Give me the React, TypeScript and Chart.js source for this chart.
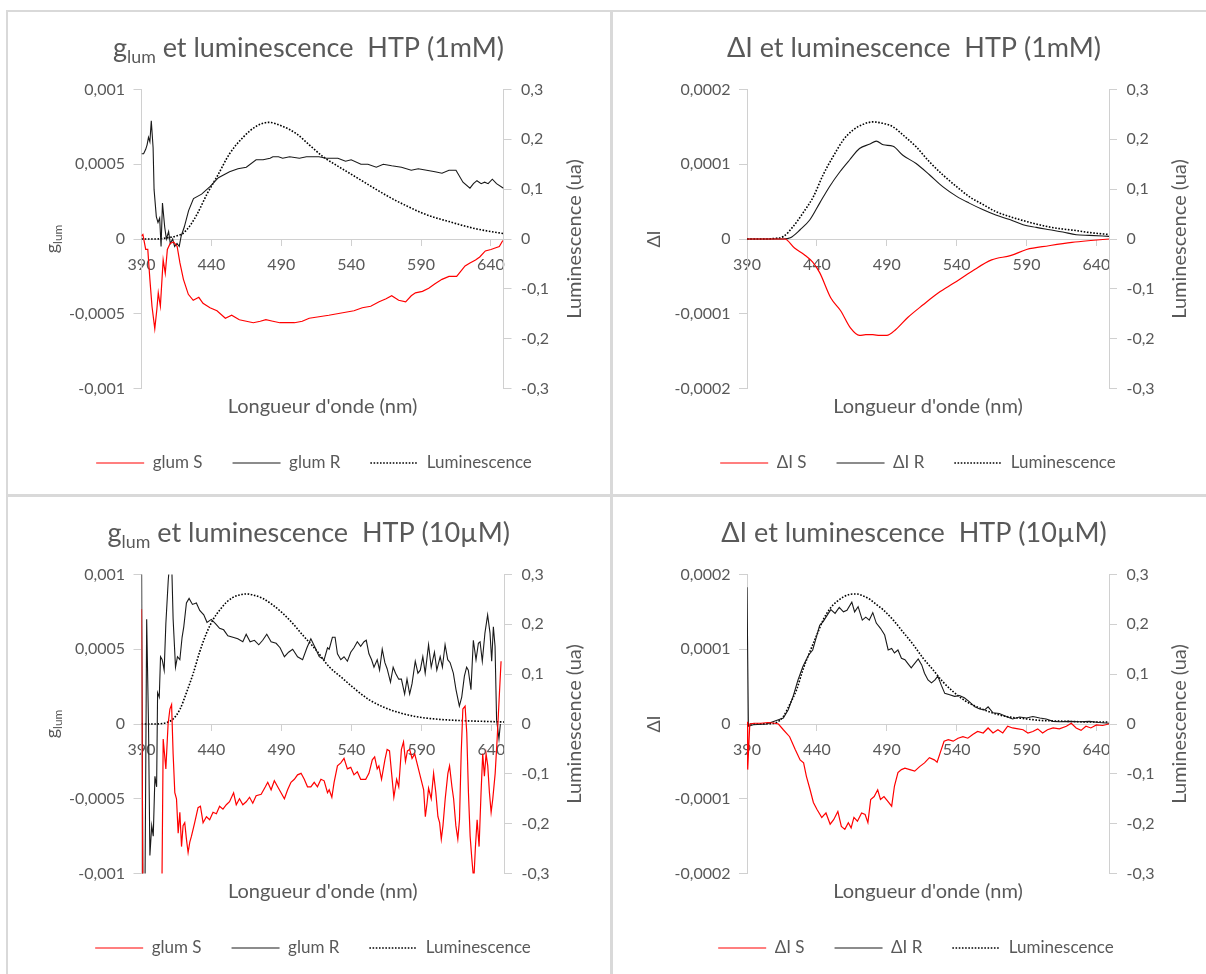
import React, { useEffect, useRef } from 'react';
import { Chart, registerables } from 'chart.js';

Chart.register(...registerables);

// ---------------- data ----------------
const nmTickVals = [390, 440, 490, 540, 590, 640];
const nmTickLabels = ['390', '440', '490', '540', '590', '640'];
const glumTickVals = [-0.001, -0.0005, 0, 0.0005, 0.001];
const glumTickLabels = ['-0,001', '-0,0005', '0', '0,0005', '0,001'];
const dITickVals = [-0.0002, -0.0001, 0, 0.0001, 0.0002];
const dITickLabels = ['-0,0002', '-0,0001', '0', '0,0001', '0,0002'];
const lumTickVals = [-0.3, -0.2, -0.1, 0, 0.1, 0.2, 0.3];
const lumTickLabels = ['-0,3', '-0,2', '-0,1', '0', '0,1', '0,2', '0,3'];

const xAxisTitle = "Longueur d'onde (nm)";
const y2AxisTitle = 'Luminescence (ua)';
const lumLabel = 'Luminescence';

type P = [number, number][];

// g_lum, 1 mM
const glumS_1mM: P = [[390, 0.00002], [391, 0.00003], [393, -0.00007], [394.5, -0.00007], [396, -0.00027], [397.5, -0.00045], [399.5, -0.0006], [401, -0.00047], [402, -0.00036], [403.5, -0.00045], [405.5, -0.00014], [407, -0.00023], [408.5, -0.00007], [410.5, -0.00003], [413, -0.00002], [415.5, -0.00005], [417.5, -0.00016], [420, -0.00027], [423.5, -0.00037], [427, -0.00041], [431, -0.00039], [434, -0.00043], [439, -0.00046], [444, -0.00048], [450, -0.00053], [454.5, -0.00051], [460, -0.00054], [465, -0.00055], [470, -0.00056], [475, -0.00055], [479, -0.00054], [484, -0.00055], [489, -0.00056], [494, -0.00056], [499.5, -0.00056], [505, -0.00055], [510, -0.00053], [517, -0.00052], [524, -0.00051], [530, -0.0005], [536, -0.00049], [542, -0.00048], [548, -0.00046], [554, -0.00045], [560, -0.00042], [565, -0.0004], [569, -0.00038], [574, -0.00041], [579, -0.00042], [583, -0.00038], [586, -0.00036], [591, -0.00035], [595.5, -0.00033], [600, -0.0003], [605, -0.00027], [610, -0.00025], [615.5, -0.00025], [621.5, -0.00018], [625, -0.00016], [629, -0.00014], [632, -0.00012], [636, -0.00008], [640, -0.00007], [643, -0.00006], [646, -0.00005], [648.5, -0.00001]];
const glumR_1mM: P = [[390, 0.00057], [391.5, 0.00057], [393, 0.0006], [394, 0.00063], [395, 0.00068], [396, 0.00065], [397, 0.00079], [398.3, 0.00061], [399, 0.00033], [400.6, 0.00015], [401.8, 0.00011], [403, 0.00014], [404, -0.00005], [405, 0.00024], [406.6, 0.00008], [407.8, 0], [409.4, 0.00005], [410.6, -0.00003], [412.3, 0], [413.7, -0.00005], [415.4, -0.00003], [417, -0.00005], [418.4, 0.00002], [420.6, 0.00008], [423.7, 0.00019], [427.2, 0.00027], [433, 0.0003], [439, 0.00035], [445, 0.00041], [453, 0.00045], [459, 0.00047], [465, 0.00048], [472, 0.00053], [477, 0.00053], [482, 0.00054], [484, 0.00055], [488, 0.00055], [491, 0.00054], [496, 0.00055], [503, 0.00054], [508, 0.00055], [512.5, 0.00055], [517, 0.00055], [522, 0.00054], [530.5, 0.00054], [536, 0.00052], [540, 0.00053], [547, 0.0005], [552, 0.0005], [558, 0.00048], [563, 0.0005], [569, 0.00049], [576, 0.00048], [583, 0.00046], [588, 0.00047], [594, 0.00046], [600, 0.00045], [605, 0.00044], [610, 0.00046], [615, 0.00046], [620, 0.00038], [625, 0.00034], [627.5, 0.00037], [630, 0.00039], [633, 0.00037], [635.5, 0.00038], [638, 0.00037], [641, 0.0004], [644, 0.00037], [649, 0.00034]];
const lumA_1mM: P = [[390, 0], [400, 0], [405, 0.001], [410, 0.003], [415, 0.006], [420, 0.012], [425, 0.028], [430, 0.051], [437, 0.091], [444, 0.125], [453, 0.171], [463, 0.205], [472, 0.226], [481, 0.234], [491, 0.226], [501, 0.211], [510, 0.189], [520, 0.165], [530, 0.147], [540, 0.13], [550, 0.113], [560, 0.096], [570, 0.08], [580, 0.066], [590, 0.053], [600, 0.043], [610, 0.035], [620, 0.027], [630, 0.02], [640, 0.015], [649, 0.011]];

// Delta I, 1 mM
const dIS_1mM: P = [[390, 0], [410, 0], [417, 0], [424, -0.000012], [431, -0.000021], [437, -0.000031], [442, -0.000045], [450, -0.000079], [457, -0.000096], [464, -0.000119], [470.5, -0.000129], [475, -0.000128], [480, -0.000128], [485, -0.000129], [490, -0.000129], [496.5, -0.000121], [505, -0.000105], [516, -0.000088], [527, -0.000072], [538, -0.000059], [551, -0.000043], [565, -0.000028], [579, -0.000022], [590, -0.000014], [606, -0.000009], [622.5, -0.0000045], [636, -0.000002], [649, 0]];
const dIR_1mM: P = [[390, 0], [400, 0], [410, 0], [416, 0], [421, 0.0000016], [428, 0.0000124], [435, 0.0000257], [442, 0.000048], [449, 0.00007], [456.5, 0.00009], [463.5, 0.000106], [470.5, 0.000121], [478, 0.000127], [482.5, 0.000131], [487.5, 0.000126], [494.5, 0.000124], [501.5, 0.000112], [511, 0.000101], [520.5, 0.000086], [530, 0.00007], [540, 0.000057], [549, 0.000048], [559, 0.000039], [568, 0.000032], [578, 0.000026], [587.5, 0.000019], [597, 0.0000155], [606.5, 0.0000124], [616, 0.0000093], [625.5, 0.0000057], [635, 0.0000048], [649, 0.0000035]];
const lumB_1mM: P = [[390, 0], [405, 0], [409, 0.001], [416, 0.005], [423, 0.025], [430, 0.052], [437.5, 0.085], [444.5, 0.129], [451.5, 0.165], [459, 0.199], [466, 0.219], [473, 0.23], [480, 0.235], [487.5, 0.232], [494.5, 0.225], [501.5, 0.209], [511, 0.185], [520.5, 0.155], [530, 0.129], [540, 0.105], [549, 0.085], [559, 0.069], [568, 0.055], [578, 0.045], [587.5, 0.037], [597, 0.03], [606.5, 0.024], [616, 0.02], [625.5, 0.017], [635, 0.013], [649, 0.009]];

// g_lum, 10 uM
const glumS_10uM: P = [[390, 0.00077], [391, -0.0012], [398, -0.0013], [404.5, -0.0012], [405.5, -0.0001], [407.4, -0.0003], [409, 0], [410.3, 0.0001], [411.5, 0.00013], [412.6, -0.0002], [413.8, -0.00046], [415, -0.0005], [416.2, -0.00073], [417.4, -0.00059], [418.6, -0.00082], [419.7, -0.00068], [420.9, -0.00066], [422.1, -0.00077], [423.3, -0.00086], [424.5, -0.00079], [425.7, -0.00075], [428, -0.00066], [430.4, -0.00056], [432.1, -0.00055], [434, -0.00066], [436.4, -0.00062], [438.7, -0.00064], [441.1, -0.00059], [443.5, -0.0006], [445.8, -0.00055], [448.2, -0.00057], [450.6, -0.00054], [452.9, -0.00052], [455.8, -0.00046], [457.7, -0.00054], [460, -0.0005], [462.4, -0.00054], [464.8, -0.00052], [467.2, -0.00049], [469.5, -0.00053], [471.9, -0.00048], [475.5, -0.00047], [478.5, -0.00042], [480.2, -0.00039], [482.6, -0.00044], [484.9, -0.00038], [487.3, -0.00042], [489.7, -0.00046], [492.1, -0.0005], [494.4, -0.00044], [496.8, -0.00039], [499.2, -0.00037], [501.5, -0.00034], [504, -0.00033], [506.3, -0.00037], [508.6, -0.00042], [511, -0.00042], [513.4, -0.00039], [515.7, -0.00042], [518.2, -0.00037], [520.5, -0.00038], [522.9, -0.00046], [524.1, -0.00044], [526, -0.00049], [527.6, -0.00039], [530, -0.00028], [532.4, -0.00026], [534.7, -0.00023], [537.1, -0.0003], [539.5, -0.00029], [541.8, -0.00034], [544.2, -0.00032], [546.6, -0.00037], [550.2, -0.00037], [552.5, -0.00033], [554.9, -0.00024], [556.6, -0.00022], [558.4, -0.0003], [559.6, -0.00028], [561.5, -0.00037], [563.9, -0.00024], [565.5, -0.00017], [567.2, -0.00018], [568.7, -0.00033], [570.3, -0.00049], [572.3, -0.00037], [573.8, -0.00042], [575.7, -0.00017], [577.2, -0.00012], [578.6, -0.00025], [580, -0.00018], [581.6, -0.00017], [583.3, -0.00023], [585.2, -0.0002], [586.8, -0.00026], [589.2, -0.00035], [591.6, -0.00044], [592.8, -0.00062], [594, -0.00053], [595.1, -0.00043], [597, -0.0005], [598.7, -0.00033], [600.3, -0.00046], [601.8, -0.00062], [603, -0.00066], [604.2, -0.00077], [605.4, -0.00068], [607, -0.0005], [608.9, -0.00033], [610.1, -0.00028], [611.8, -0.00042], [613, -0.0005], [614.6, -0.00068], [616, -0.00077], [617.2, -0.00064], [618.4, -0.0002], [619.6, 0.0001], [621.2, 0.00012], [622.4, -0.00006], [623.6, -0.00046], [624.8, -0.00075], [626, -0.0009], [627.4, -0.00105], [628.6, -0.00082], [629.8, -0.00064], [631.2, -0.00082], [632.6, -0.00046], [633.8, -0.0002], [635, -0.00035], [636.2, -0.0002], [637.4, -0.00028], [638.6, -0.00046], [639.8, -0.00059], [641, -0.0005], [642.7, -0.00033], [644.1, -0.0001], [645.5, 0.00016], [646.9, 0.00042]];
const glumR_10uM: P = [[390, 0.0012], [391, -0.0012], [392.5, -0.0011], [393.7, 0.0007], [395, 0], [396, -0.00088], [397.3, -0.00068], [398.4, -0.00075], [399.6, -0.00035], [400.8, -0.00042], [401.5, 0.00021], [402.7, 0.00018], [403.6, 0.00045], [404.8, 0.00043], [406.2, 0.00036], [407.4, 0.00067], [409.1, 0.00096], [410.3, 0.0011], [411.5, 0.0011], [412.6, 0.0007], [414.3, 0.00038], [415.7, 0.00045], [417.4, 0.00043], [419, 0.00058], [420.2, 0.00065], [422.1, 0.00081], [424, 0.00084], [426.4, 0.0008], [429.2, 0.00081], [431.6, 0.00076], [434.5, 0.00073], [436.8, 0.00068], [439.9, 0.0007], [443, 0.00067], [445.8, 0.00064], [448.7, 0.00063], [451.7, 0.00059], [455.3, 0.00058], [458.8, 0.00057], [462.4, 0.00055], [464.8, 0.0006], [467.6, 0.00055], [470.7, 0.00056], [473.8, 0.00053], [476.6, 0.00056], [479.5, 0.0006], [482.6, 0.00055], [486.2, 0.00054], [489, 0.00051], [492.1, 0.00045], [495.1, 0.00048], [498, 0.0005], [501.5, 0.00045], [505.1, 0.00043], [508.2, 0.00051], [511, 0.00057], [514.1, 0.00051], [517, 0.00045], [520.5, 0.00043], [522.9, 0.00051], [524.1, 0.0005], [526.4, 0.00058], [528.3, 0.00058], [530, 0.00047], [532.4, 0.00043], [534.7, 0.00045], [537.1, 0.00042], [539.5, 0.00048], [541.8, 0.00051], [544.2, 0.00055], [546.6, 0.00052], [549, 0.00055], [550.6, 0.00056], [552.5, 0.00047], [554.4, 0.00043], [556.1, 0.00038], [558.4, 0.00043], [560.1, 0.00036], [562, 0.0005], [563.9, 0.00041], [565.5, 0.00037], [567.9, 0.00028], [569.8, 0.00038], [571.5, 0.00034], [573.8, 0.0003], [575.7, 0.0003], [578, 0.0002], [579.7, 0.0003], [581.6, 0.0002], [583.3, 0.00027], [585.6, 0.00042], [587.5, 0.00034], [589.2, 0.00036], [591, 0.00045], [592.7, 0.00034], [595.1, 0.00053], [597, 0.00038], [599.3, 0.00048], [601, 0.00036], [603.4, 0.00045], [605, 0.00038], [606.9, 0.00053], [608.8, 0.00043], [610.5, 0.00041], [612.8, 0.00034], [614.7, 0.00023], [617.1, 0.00012], [618.8, 0.00018], [620.7, 0.00032], [622.3, 0.00038], [623.5, 0.00036], [625.4, 0.00023], [627.1, 0.00056], [629, 0.00043], [630.7, 0.00054], [631.9, 0.00055], [633.5, 0.00042], [635.4, 0.00061], [637.3, 0.00073], [639, 0.00061], [640.2, 0.00042], [641.4, 0.00065], [642.6, 0.00052], [643.7, 0.00003], [645.4, -0.0001], [646.4, 0]];
const lumA_10uM: P = [[390, 0], [400, 0], [405, 0.001], [409, 0.004], [412.6, 0.01], [417.4, 0.029], [422, 0.062], [427, 0.102], [431.6, 0.145], [436.4, 0.182], [441, 0.209], [446, 0.229], [450.6, 0.244], [455.3, 0.254], [460, 0.259], [465, 0.261], [469.5, 0.259], [476.6, 0.252], [483.7, 0.239], [491, 0.222], [498, 0.202], [505, 0.179], [514.6, 0.149], [524, 0.115], [533.5, 0.092], [543, 0.069], [552.5, 0.049], [562, 0.035], [571.5, 0.025], [585.7, 0.015], [600, 0.01], [619, 0.0067], [638, 0.005], [649, 0.004]];

// Delta I, 10 uM
const dIS_10uM: P = [[390, 0.000003], [390.5, -0.000061], [392, 0], [395, 0.000001], [400, 0.000001], [405, 0.000002], [410, 0.000001], [412.5, 0], [416, -0.0000077], [420.5, -0.000017], [424.5, -0.000034], [428, -0.000048], [430.5, -0.000052], [432.5, -0.00007], [435, -0.000087], [437.5, -0.000105], [440, -0.000114], [443.5, -0.000125], [446.5, -0.000119], [449.5, -0.000134], [452, -0.000128], [455, -0.000117], [457.5, -0.000137], [460, -0.000141], [462.5, -0.000132], [464.5, -0.000139], [466.5, -0.000125], [469, -0.00013], [472, -0.000119], [474.5, -0.000121], [476.5, -0.000132], [478.5, -0.000101], [481, -0.000097], [483.5, -0.000088], [485.5, -0.000101], [488, -0.000097], [490.5, -0.000103], [493.5, -0.00011], [495.5, -0.000083], [498, -0.000065], [500.5, -0.000061], [503, -0.000059], [506.5, -0.000061], [510, -0.000063], [513.5, -0.000057], [517, -0.000052], [520.5, -0.000045], [524, -0.000048], [526, -0.000051], [528.5, -0.000037], [531, -0.000023], [534, -0.000021], [537.5, -0.000023], [541, -0.000019], [544.5, -0.000017], [548, -0.000019], [551.5, -0.000014], [555, -0.00001], [559, -0.000012], [562.5, -0.0000053], [566, -0.000012], [569.5, -0.0000077], [573, -0.000012], [576.5, -0.000003], [580, -0.0000053], [584, -0.0000065], [587.5, -0.0000077], [591, -0.000012], [594.5, -0.00001], [598, -0.0000065], [601.5, -0.000012], [605, -0.0000077], [609, -0.0000053], [613.5, -0.0000065], [618.5, -0.000003], [622, 0.000001], [625.5, -0.0000053], [629, -0.0000085], [632.5, -0.000003], [636, -0.0000053], [640, -0.0000013], [644.5, -0.000002], [649, 0]];
const dIR_10uM: P = [[390, 0.000183], [391, -0.000003], [394.5, -0.000001], [404, 0], [411, 0.0000048], [416, 0.000008], [419.5, 0.000019], [423, 0.000037], [426.5, 0.000059], [430, 0.000077], [434, 0.000092], [437, 0.000099], [440, 0.000119], [442, 0.000132], [444.5, 0.000137], [447.5, 0.000146], [450, 0.000153], [453, 0.000148], [456, 0.000156], [459, 0.00015], [461.5, 0.000152], [465, 0.000163], [467, 0.00015], [469.5, 0.000157], [472.5, 0.000139], [475, 0.000143], [477.5, 0.000139], [480, 0.000149], [482.5, 0.000135], [485.5, 0.000128], [488.5, 0.000119], [491, 0.000099], [493.5, 0.000101], [495.5, 0.000095], [498, 0.000099], [500.5, 0.000088], [503, 0.000086], [505, 0.000081], [507.5, 0.000075], [510, 0.000081], [512.5, 0.000087], [515, 0.000079], [517, 0.000068], [519.5, 0.000059], [522, 0.000055], [524.5, 0.000059], [526.5, 0.000064], [529, 0.000052], [531.5, 0.000041], [535, 0.000039], [538.5, 0.000037], [542, 0.000038], [545.5, 0.000035], [549, 0.00003], [553, 0.000023], [556.5, 0.00002], [560, 0.000019], [562.5, 0.000023], [566, 0.000015], [570.5, 0.000014], [575.5, 0.00001], [580, 0.0000067], [585, 0.0000093], [590, 0.000008], [594.5, 0.00001], [599.5, 0.000008], [604, 0.0000067], [609, 0.0000035], [613.5, 0.000003], [620.5, 0.0000035], [628, 0.000003], [635, 0.0000035], [642, 0.000002], [649, 0.000001]];
const lumB_10uM: P = [[390, 0], [405, 0.0005], [411, 0.003], [416, 0.015], [420.5, 0.039], [425.5, 0.069], [430, 0.109], [435, 0.145], [440, 0.179], [444.5, 0.209], [449.5, 0.232], [454, 0.245], [459, 0.255], [463.5, 0.26], [468.5, 0.261], [473, 0.257], [478, 0.25], [482.5, 0.24], [487.5, 0.229], [494.5, 0.209], [501.5, 0.185], [509, 0.159], [516, 0.132], [523, 0.109], [530, 0.085], [537.5, 0.065], [547, 0.045], [556.5, 0.032], [566, 0.022], [575.5, 0.015], [587.5, 0.011], [599.5, 0.0073], [611, 0.006], [623, 0.005], [635, 0.004], [649, 0.004]];

// ---------------- styling ----------------
const FONT = 'Lato, "Noto Sans", "DejaVu Sans", sans-serif';
const TEXT = '#595959';
const AXIS = '#d0d0d0';
const RED = '#ff0000';
const BLACK = '#1a1a1a';
const GRID_LINE = '#d9d9d9';

type Seg = { t: string; sub?: boolean };

interface PanelSpec {
  left: number; top: number; width: number; height: number;
  padL: number; padB: number; wl: number; wr: number;
  title: Seg[]; yTitle: Seg[]; yTitleDx: number;
  yMin: number; yMax: number; yTickVals: number[]; yTickLabels: string[];
  labels: [string, string];
  s: P; r: P; l: P;
  smooth: boolean;
}

function drawSegs(ctx: CanvasRenderingContext2D, segs: Seg[], cx: number, cy: number, size: number, rot: number) {
  ctx.save();
  ctx.translate(cx, cy);
  if (rot) ctx.rotate(rot);
  const subSize = size * 0.66;
  const fontOf = (sz: number) => `${sz}px ${FONT}`;
  let total = 0;
  const widths = segs.map((sg) => {
    ctx.font = fontOf(sg.sub ? subSize : size);
    const w = ctx.measureText(sg.t).width;
    total += w;
    return w;
  });
  let x = -total / 2;
  ctx.textAlign = 'left';
  ctx.textBaseline = 'alphabetic';
  ctx.fillStyle = TEXT;
  const base = size * 0.36;
  segs.forEach((sg, i) => {
    ctx.font = fontOf(sg.sub ? subSize : size);
    ctx.fillText(sg.t, x, base + (sg.sub ? size * 0.22 : 0));
    x += widths[i];
  });
  ctx.restore();
}

function makeDecor(s: PanelSpec) {
  return {
    id: 'decor',
    afterDraw(chart: any) {
      const { ctx, chartArea: ca } = chart;
      const cy = (ca.top + ca.bottom) / 2;
      drawSegs(ctx, s.title, (ca.left + ca.right) / 2 - 14, ca.top - 42.5, 27, 0);
      drawSegs(ctx, s.yTitle, ca.left + s.yTitleDx, cy, 18, -Math.PI / 2);
      drawSegs(ctx, [{ t: y2AxisTitle }], ca.right + 70, cy, 20, -Math.PI / 2);
    },
  };
}

const pts = (p: P) => p.map(([x, y]) => ({ x, y }));
const fixTicks = (vals: number[]) => (scale: any) => {
  scale.ticks = vals.map((v) => ({ value: v }));
};

const legendItems = (chart: any) =>
  chart.data.datasets.map((ds: any, i: number) => ({
    text: ds.label,
    datasetIndex: i,
    hidden: false,
    fillStyle: 'rgba(0,0,0,0)',
    strokeStyle: ds.borderColor,
    lineWidth: ds.borderWidth,
    lineDash: ds.borderDash || [],
    lineCap: 'butt',
    pointStyle: 'line',
    fontColor: TEXT,
    rotation: 0,
  }));

function buildConfig(s: PanelSpec): any {
  const tickFont = { family: FONT, size: 16 };
  const mode = s.smooth ? 'monotone' : 'default';
  return {
    type: 'line',
    data: {
      datasets: [
        { label: s.labels[0], data: pts(s.s), borderColor: RED, backgroundColor: RED, borderWidth: 1.2, yAxisID: 'y', xAxisID: 'x', pointRadius: 0, tension: 0, cubicInterpolationMode: mode },
        { label: s.labels[1], data: pts(s.r), borderColor: BLACK, backgroundColor: BLACK, borderWidth: 1.1, yAxisID: 'y', xAxisID: 'x', pointRadius: 0, tension: 0, cubicInterpolationMode: mode },
        { label: lumLabel, data: pts(s.l), borderColor: '#000000', backgroundColor: '#000000', borderWidth: 1.6, borderDash: [1.6, 1.6], yAxisID: 'y2', xAxisID: 'x', pointRadius: 0, tension: 0, cubicInterpolationMode: 'monotone' },
      ],
    },
    options: {
      responsive: false,
      animation: false,
      devicePixelRatio: 1,
      events: [],
      layout: { padding: { top: 77.5, bottom: s.padB, left: s.padL, right: 0 } },
      plugins: {
        legend: {
          display: true,
          position: 'bottom',
          labels: { usePointStyle: true, pointStyle: 'line', pointStyleWidth: 48, padding: 30, color: TEXT, font: { family: FONT, size: 17 }, generateLabels: legendItems },
        },
        title: { display: false },
        tooltip: { enabled: false },
      },
      scales: {
        x: {
          type: 'linear', axis: 'x', min: 390, max: 649, position: { y: 0 },
          afterFit: (sc: any) => { sc.height = 0; },
          afterBuildTicks: fixTicks(nmTickVals),
          grid: { display: true, drawOnChartArea: false, drawTicks: true, tickLength: 6, color: AXIS, lineWidth: 1 },
          border: { display: true, color: AXIS, width: 1 },
          ticks: { autoSkip: false, maxRotation: 0, padding: 10, color: TEXT, font: tickFont, callback: (_v: any, i: number) => nmTickLabels[i] },
        },
        xTitle: {
          type: 'linear', axis: 'x', position: 'bottom',
          afterFit: (sc: any) => { sc.height = 36; },
          ticks: { display: false }, grid: { display: false }, border: { display: false },
          title: { display: true, text: xAxisTitle, color: TEXT, font: { family: FONT, size: 20 }, padding: { top: 0, bottom: 6 } },
        },
        y: {
          type: 'linear', axis: 'y', position: 'left', min: s.yMin, max: s.yMax,
          afterFit: (sc: any) => { sc.width = s.wl; },
          afterBuildTicks: fixTicks(s.yTickVals),
          grid: { display: true, drawOnChartArea: false, drawTicks: true, tickLength: 8, color: AXIS, lineWidth: 1 },
          border: { display: true, color: AXIS, width: 1 },
          ticks: { autoSkip: false, padding: 8.5, color: TEXT, font: tickFont, callback: (_v: any, i: number) => s.yTickLabels[i] },
        },
        y2: {
          type: 'linear', axis: 'y', position: 'right', min: -0.3, max: 0.3,
          afterFit: (sc: any) => { sc.width = s.wr; },
          afterBuildTicks: fixTicks(lumTickVals),
          grid: { display: true, drawOnChartArea: false, drawTicks: true, tickLength: 8, color: AXIS, lineWidth: 1 },
          border: { display: true, color: AXIS, width: 1 },
          ticks: { autoSkip: false, padding: 9.5, color: TEXT, font: tickFont, callback: (_v: any, i: number) => lumTickLabels[i] },
        },
      },
    },
    plugins: [makeDecor(s)],
  };
}

const glumTitle = (conc: string): Seg[] => [{ t: 'g' }, { t: 'lum', sub: true }, { t: ` et luminescence  HTP (${conc})` }];
const dITitle = (conc: string): Seg[] => [{ t: `ΔI et luminescence  HTP (${conc})` }];

const panels: PanelSpec[] = [
  {
    left: 8, top: 12, width: 600, height: 480, padL: 12, padB: 10.5, wl: 121.5, wr: 104.5,
    title: glumTitle('1mM'), yTitle: [{ t: 'g' }, { t: 'lum', sub: true }], yTitleDx: -90,
    yMin: -0.001, yMax: 0.001, yTickVals: glumTickVals, yTickLabels: glumTickLabels,
    labels: ['glum S', 'glum R'], s: glumS_1mM, r: glumR_1mM, l: lumA_1mM, smooth: false,
  },
  {
    left: 613, top: 12, width: 593, height: 480, padL: 17, padB: 10.5, wl: 117, wr: 97,
    title: dITitle('1mM'), yTitle: [{ t: 'ΔI' }], yTitleDx: -93,
    yMin: -0.0002, yMax: 0.0002, yTickVals: dITickVals, yTickLabels: dITickLabels,
    labels: ['ΔI S', 'ΔI R'], s: dIS_1mM, r: dIR_1mM, l: lumB_1mM, smooth: true,
  },
  {
    left: 8, top: 497, width: 600, height: 476, padL: 10, padB: 6.5, wl: 123.5, wr: 104,
    title: glumTitle('10µM'), yTitle: [{ t: 'g' }, { t: 'lum', sub: true }], yTitleDx: -90,
    yMin: -0.001, yMax: 0.001, yTickVals: glumTickVals, yTickLabels: glumTickLabels,
    labels: ['glum S', 'glum R'], s: glumS_10uM, r: glumR_10uM, l: lumA_10uM, smooth: false,
  },
  {
    left: 613, top: 497, width: 593, height: 476, padL: 13, padB: 6.5, wl: 121, wr: 97,
    title: dITitle('10µM'), yTitle: [{ t: 'ΔI' }], yTitleDx: -93,
    yMin: -0.0002, yMax: 0.0002, yTickVals: dITickVals, yTickLabels: dITickLabels,
    labels: ['ΔI S', 'ΔI R'], s: dIS_10uM, r: dIR_10uM, l: lumB_10uM, smooth: false,
  },
];

function Panel({ spec }: { spec: PanelSpec }) {
  const ref = useRef<HTMLCanvasElement>(null);
  useEffect(() => {
    if (!ref.current) return;
    const chart = new Chart(ref.current, buildConfig(spec));
    return () => chart.destroy();
  }, [spec]);
  return (
    <canvas
      ref={ref}
      width={spec.width}
      height={spec.height}
      style={{ position: 'absolute', left: spec.left, top: spec.top, width: spec.width, height: spec.height }}
    />
  );
}

export default function App() {
  const line = (l: number, t: number, w: number, h: number) => (
    <div style={{ position: 'absolute', left: l, top: t, width: w, height: h, background: GRID_LINE }} />
  );
  return (
    <div>
      {line(6, 10, 1200, 2)}
      {line(6, 10, 2, 964)}
      {line(610, 10, 3, 964)}
      {line(6, 494, 1200, 3)}
      {panels.map((p, i) => (
        <Panel key={i} spec={p} />
      ))}
    </div>
  );
}
